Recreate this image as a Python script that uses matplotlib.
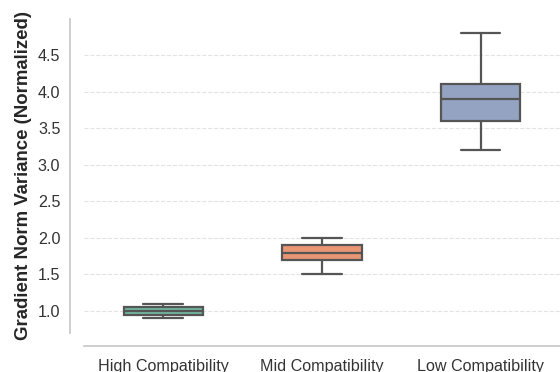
import numpy as np
import matplotlib
matplotlib.use("Agg")
import matplotlib.pyplot as plt
import seaborn as sns

# Box statistics
categories = ["High Compatibility", "Mid Compatibility", "Low Compatibility"]
whisker_low = [0.90, 1.50, 3.20]
q1 = [0.95, 1.70, 3.60]
median = [1.00, 1.80, 3.90]
q3 = [1.05, 1.90, 4.10]
whisker_high = [1.10, 2.00, 4.80]

sns.set_theme(style="whitegrid")
plt.rcParams["font.family"] = ["Liberation Sans", "DejaVu Sans"]

colors = [sns.desaturate(c, 0.75) for c in sns.color_palette("Set2", 3)]

stats = []
for i, name in enumerate(categories):
    stats.append({
        "label": name,
        "whislo": whisker_low[i],
        "q1": q1[i],
        "med": median[i],
        "q3": q3[i],
        "whishi": whisker_high[i],
        "fliers": [],
    })

fig = plt.figure(figsize=(5.6, 3.72), dpi=100)
ax = fig.add_axes([0.15, 0.106, 0.85, 0.843])

line_col = "#555555"
lw = 1.6
bp = ax.bxp(stats, positions=np.arange(len(categories)), widths=0.5,
            patch_artist=True, showfliers=False,
            boxprops=dict(edgecolor=line_col, linewidth=lw),
            medianprops=dict(color=line_col, linewidth=lw),
            whiskerprops=dict(color=line_col, linewidth=lw),
            capprops=dict(color=line_col, linewidth=lw))
for patch, c in zip(bp["boxes"], colors):
    patch.set_facecolor(c)

ax.set_xlim(-0.5, len(categories) - 0.5)
ax.margins(y=0.05)
ax.set_yticks([1.0, 1.5, 2.0, 2.5, 3.0, 3.5, 4.0, 4.5])
ax.xaxis.grid(False)
ax.yaxis.grid(True, linestyle="--", color="#e3e3e3", linewidth=0.8)
ax.set_axisbelow(True)

ax.set_ylabel("Gradient Norm Variance (Normalized)", fontsize=13.4,
              fontweight="bold", color="#262626", labelpad=4)
ax.tick_params(axis="both", labelsize=11.6, colors="#333333", length=0)
ax.tick_params(axis="y", pad=7)
ax.tick_params(axis="x", pad=9)

sns.despine(ax=ax, offset=10)
for s in ["left", "bottom"]:
    ax.spines[s].set_color("#cccccc")
    ax.spines[s].set_linewidth(1.3)

fig.savefig("out.png", dpi=100)
